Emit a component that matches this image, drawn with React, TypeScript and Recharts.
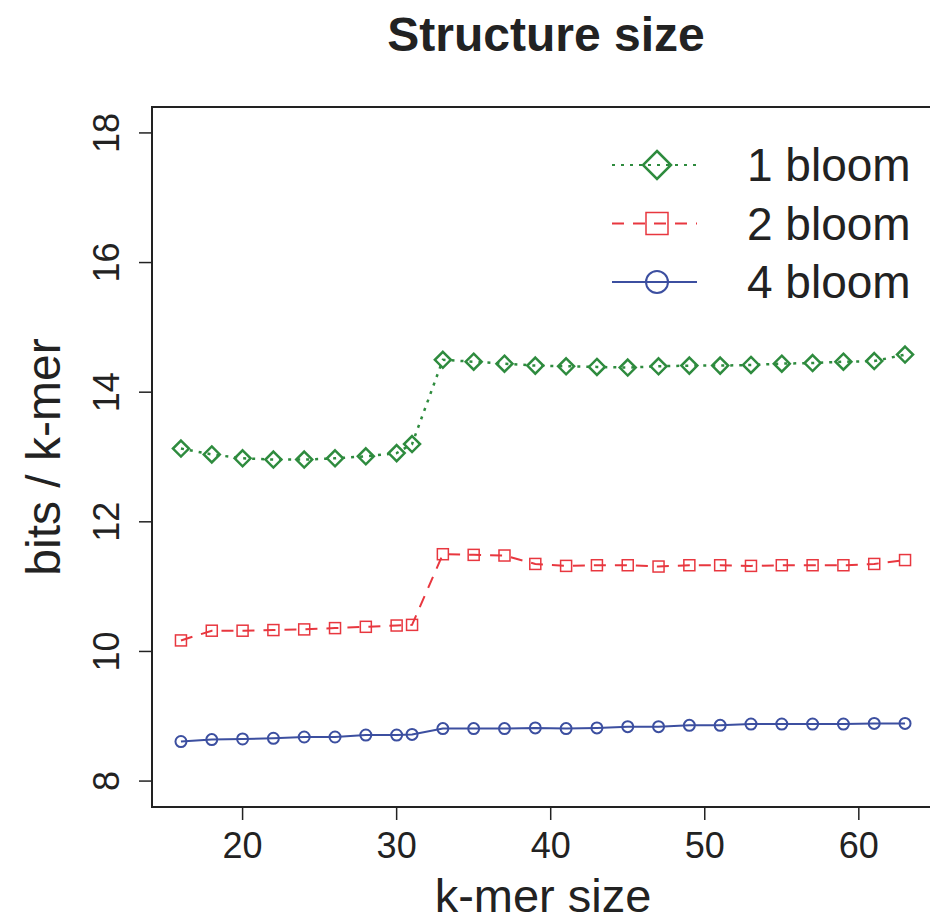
import React from "react"
import { LineChart, Line, XAxis, YAxis, ReferenceArea } from "recharts"

const kmer = [16, 18, 20, 22, 24, 26, 28, 30, 31, 33, 35, 37, 39, 41, 43, 45, 47, 49, 51, 53, 55, 57, 59, 61, 63]
const bloom1 = [13.13, 13.04, 12.98, 12.96, 12.96, 12.98, 13.01, 13.06, 13.2, 14.5, 14.47, 14.44, 14.41, 14.4, 14.39, 14.38, 14.4, 14.41, 14.41, 14.42, 14.44, 14.45, 14.47, 14.48, 14.58]
const bloom2 = [10.17, 10.32, 10.32, 10.33, 10.34, 10.36, 10.38, 10.4, 10.41, 11.5, 11.49, 11.48, 11.35, 11.32, 11.33, 11.33, 11.31, 11.33, 11.33, 11.32, 11.33, 11.33, 11.33, 11.35, 11.41]
const bloom4 = [8.61, 8.64, 8.65, 8.66, 8.68, 8.68, 8.71, 8.71, 8.72, 8.81, 8.81, 8.81, 8.82, 8.81, 8.82, 8.84, 8.84, 8.86, 8.86, 8.88, 8.88, 8.88, 8.88, 8.89, 8.89]
const xTicks = [20, 30, 40, 50, 60]
const yTicks = [8, 10, 12, 14, 16, 18]
const seriesNames = ["1 bloom", "2 bloom", "4 bloom"]

const data = kmer.map((k, i) => ({ k, b1: bloom1[i], b2: bloom2[i], b4: bloom4[i] }))

const GREEN = "#2e8b3e"
const RED = "#e8373f"
const BLUE = "#3c4fa0"
const FONT = "'Liberation Sans', Arial, sans-serif"

const X_DOMAIN: [number, number] = [14.12, 64.88]
const Y_DOMAIN: [number, number] = [7.6, 18.4]

function Diamond({ cx, cy, r, color }: any) {
  return <path d={`M${cx},${cy - r}L${cx + r},${cy}L${cx},${cy + r}L${cx - r},${cy}Z`} fill="none" stroke={color} strokeWidth={2.5} />
}
function Square({ cx, cy, r, color }: any) {
  return <rect x={cx - r} y={cy - r} width={r * 2} height={r * 2} fill="none" stroke={color} strokeWidth={1.5} />
}
function Ring({ cx, cy, r, color }: any) {
  return <circle cx={cx} cy={cy} r={r} fill="none" stroke={color} strokeWidth={2} />
}

const XTick = ({ x, y, payload }: any) => (
  <text x={x} y={y + 36} textAnchor="middle" fontSize={36} fill="#222" fontFamily={FONT}>
    {payload.value}
  </text>
)

const YTick = ({ x, y, payload }: any) => (
  <text transform={`translate(${x - 18},${y}) rotate(-90)`} textAnchor="middle" fontSize={36} fill="#222" fontFamily={FONT}>
    {payload.value}
  </text>
)

function LegendBox() {
  const rows = [
    { name: seriesNames[0], color: GREEN, dash: "3 6", mark: (cx: number, cy: number) => <Diamond cx={cx} cy={cy} r={14} color={GREEN} /> },
    { name: seriesNames[1], color: RED, dash: "12 9", mark: (cx: number, cy: number) => <Square cx={cx} cy={cy} r={11} color={RED} /> },
    { name: seriesNames[2], color: BLUE, dash: undefined, mark: (cx: number, cy: number) => <Ring cx={cx} cy={cy} r={11} color={BLUE} /> },
  ]
  return (
    <svg width={330} height={180} style={{ position: "absolute", left: 600, top: 140 }}>
      {rows.map((r, i) => {
        const cy = 25 + i * 58.5
        return (
          <g key={r.name}>
            <line x1={12} x2={97} y1={cy} y2={cy} stroke={r.color} strokeWidth={2} strokeDasharray={r.dash} />
            {r.mark(57, cy)}
            <text x={147} y={cy + 16} fontSize={46} fill="#222" fontFamily={FONT}>
              {r.name}
            </text>
          </g>
        )
      })}
    </svg>
  )
}

export default function App() {
  return (
    <div style={{ position: "absolute", top: 0, left: 0, width: 930, height: 921, overflow: "hidden", background: "#fff" }}>
      <div
        style={{
          position: "absolute",
          left: 546,
          top: 11,
          transform: "translateX(-50%)",
          fontFamily: FONT,
          fontWeight: "bold",
          fontSize: 48,
          lineHeight: "48px",
          whiteSpace: "nowrap",
          color: "#222",
        }}
      >
        Structure size
      </div>
      <LineChart width={940} height={921} data={data} margin={{ top: 107, right: 6, bottom: 0, left: 0 }}>
        <XAxis
          dataKey="k"
          type="number"
          domain={X_DOMAIN}
          allowDataOverflow
          ticks={xTicks}
          tickSize={13}
          tickLine={{ stroke: "#222", strokeWidth: 1.5 }}
          axisLine={false}
          height={114}
          tick={<XTick />}
          label={{
            value: "k-mer size",
            content: ({ viewBox }: any) => (
              <text x={viewBox.x + viewBox.width / 2} y={viewBox.y + 105} textAnchor="middle" fontSize={47} fill="#222" fontFamily={FONT}>
                k-mer size
              </text>
            ),
          }}
        />
        <YAxis
          type="number"
          domain={Y_DOMAIN}
          allowDataOverflow
          ticks={yTicks}
          tickSize={13}
          tickLine={{ stroke: "#222", strokeWidth: 1.5 }}
          axisLine={false}
          width={152}
          tick={<YTick />}
          label={{
            value: "bits / k-mer",
            content: ({ viewBox }: any) => (
              <text transform={`translate(${viewBox.x + 60},${viewBox.y + viewBox.height / 2}) rotate(-90)`} textAnchor="middle" fontSize={48} fill="#222" fontFamily={FONT}>
                bits / k-mer
              </text>
            ),
          }}
        />
        <ReferenceArea x1={X_DOMAIN[0]} x2={X_DOMAIN[1]} y1={Y_DOMAIN[0]} y2={Y_DOMAIN[1]} fill="none" fillOpacity={0} stroke="#222" strokeWidth={2} />
        <Line
          dataKey="b1"
          name={seriesNames[0]}
          stroke={GREEN}
          strokeWidth={2.5}
          strokeDasharray="3 6"
          isAnimationActive={false}
          dot={(p: any) => <Diamond key={p.index} cx={p.cx} cy={p.cy} r={8} color={GREEN} />}
          activeDot={false}
        />
        <Line
          dataKey="b2"
          name={seriesNames[1]}
          stroke={RED}
          strokeWidth={2}
          strokeDasharray="12 9"
          isAnimationActive={false}
          dot={(p: any) => <Square key={p.index} cx={p.cx} cy={p.cy} r={5.5} color={RED} />}
          activeDot={false}
        />
        <Line
          dataKey="b4"
          name={seriesNames[2]}
          stroke={BLUE}
          strokeWidth={2}
          isAnimationActive={false}
          dot={(p: any) => <Ring key={p.index} cx={p.cx} cy={p.cy} r={5.5} color={BLUE} />}
          activeDot={false}
        />
      </LineChart>
      <LegendBox />
    </div>
  )
}
